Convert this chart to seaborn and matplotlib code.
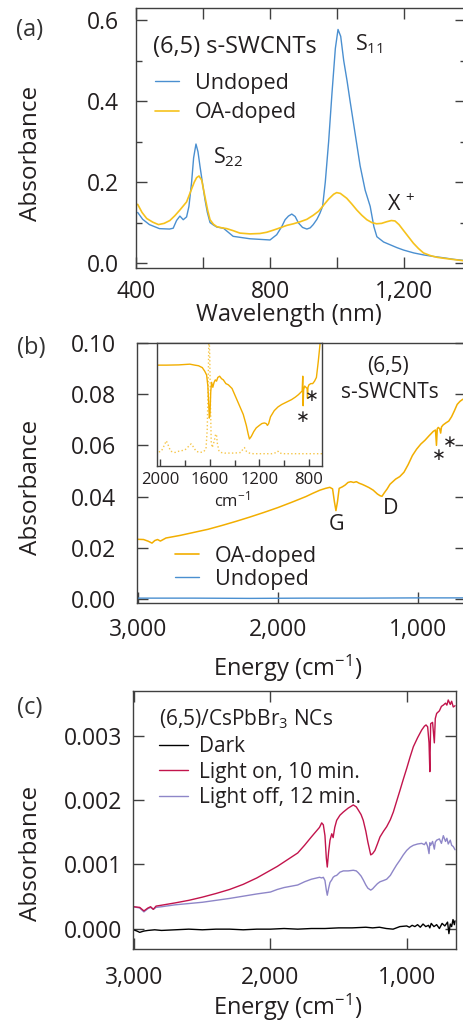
import matplotlib
matplotlib.use('Agg')
import matplotlib.pyplot as plt
import matplotlib.ticker as mticker
from matplotlib.lines import Line2D
import seaborn as sns

# ---------------- (a) absorption vs wavelength
wl_undoped = [405, 420, 440, 470, 500, 511, 521, 531, 541, 551, 558, 566, 572, 579, 585, 591, 598, 606, 613, 621,
              631, 641, 661, 690, 740, 800, 820, 835, 845, 855, 865, 875, 885, 897, 910, 920, 929, 940, 949, 957,
              965, 975, 985, 995, 1003, 1011, 1020, 1030, 1039, 1054, 1069, 1084, 1099, 1110, 1119, 1139, 1159,
              1179, 1199, 1229, 1259, 1290, 1318, 1350, 1385]
abs_undoped = [0.125, 0.108, 0.095, 0.085, 0.084, 0.086, 0.105, 0.116, 0.107, 0.114, 0.14, 0.2, 0.26, 0.294, 0.275,
               0.239, 0.2, 0.156, 0.125, 0.1, 0.094, 0.089, 0.086, 0.066, 0.06, 0.057, 0.07, 0.09, 0.107, 0.116,
               0.121, 0.115, 0.099, 0.088, 0.084, 0.087, 0.095, 0.108, 0.123, 0.14, 0.2, 0.3, 0.42, 0.53, 0.577,
               0.56, 0.5, 0.45, 0.4, 0.32, 0.24, 0.18, 0.14, 0.09, 0.065, 0.052, 0.045, 0.038, 0.032, 0.025, 0.02,
               0.016, 0.013, 0.009, 0.006]
wl_doped = [405, 418, 432, 450, 467, 484, 501, 516, 531, 551, 566, 574, 581, 588, 596, 606, 614, 621, 631, 641,
            656, 671, 690, 710, 740, 770, 790, 809, 830, 850, 870, 890, 910, 929, 945, 959, 975, 990, 999, 1010,
            1029, 1044, 1059, 1074, 1089, 1104, 1118, 1133, 1148, 1162, 1173, 1185, 1198, 1213, 1228, 1243, 1258,
            1280, 1300, 1317, 1345, 1385]
abs_doped = [0.145, 0.125, 0.11, 0.101, 0.095, 0.098, 0.105, 0.117, 0.131, 0.151, 0.183, 0.2, 0.211, 0.215, 0.205,
             0.163, 0.13, 0.107, 0.096, 0.09, 0.087, 0.085, 0.08, 0.074, 0.072, 0.073, 0.076, 0.081, 0.087, 0.093,
             0.097, 0.102, 0.108, 0.118, 0.128, 0.142, 0.158, 0.17, 0.174, 0.172, 0.16, 0.146, 0.131, 0.118, 0.107,
             0.1, 0.097, 0.098, 0.102, 0.105, 0.104, 0.095, 0.081, 0.065, 0.049, 0.036, 0.025, 0.018, 0.014, 0.012,
             0.009, 0.005]

# ---------------- (b) IR absorption of (6,5) s-SWCNTs
e_doped_ir = [3005, 2960, 2925, 2900, 2880, 2860, 2840, 2800, 2700, 2600, 2500, 2400, 2300, 2200, 2100, 2000, 1900,
              1800, 1750, 1700, 1660, 1630, 1610, 1597, 1586, 1575, 1563, 1540, 1520, 1500, 1480, 1460, 1440, 1420,
              1400, 1380, 1350, 1320, 1290, 1270, 1257, 1240, 1220, 1200, 1180, 1160, 1130, 1100, 1070, 1040, 1010,
              980, 950, 920, 890, 875, 868, 862, 855, 845, 838, 832, 820, 800, 780, 760, 740, 720, 700, 680, 660]
abs_doped_ir = [0.0233, 0.0232, 0.0225, 0.0218, 0.0228, 0.0232, 0.0226, 0.0238, 0.0248, 0.026, 0.0272, 0.0287,
                0.0303, 0.032, 0.0338, 0.0357, 0.0378, 0.04, 0.0413, 0.0425, 0.0432, 0.0436, 0.043, 0.038, 0.0345,
                0.038, 0.0432, 0.0438, 0.0445, 0.0455, 0.0458, 0.0455, 0.0458, 0.0452, 0.0448, 0.0443, 0.0435,
                0.0425, 0.041, 0.0403, 0.0401, 0.0415, 0.043, 0.0448, 0.0458, 0.0468, 0.0478, 0.0495, 0.0525,
                0.056, 0.0585, 0.0605, 0.062, 0.0638, 0.0655, 0.066, 0.06, 0.0665, 0.067, 0.0665, 0.0648, 0.0672,
                0.068, 0.0688, 0.0695, 0.0712, 0.0735, 0.076, 0.0772, 0.078, 0.0782]
e_undoped_ir = [3005, 2600, 2200, 1800, 1400, 1000, 800, 660]
abs_undoped_ir = [0.0003, 0.0003, 0.0002, 0.0003, 0.0003, 0.0004, 0.0004, 0.0004]

# inset (arbitrary units)
e_inset = [2025, 1950, 1850, 1760, 1720, 1690, 1660, 1640, 1625, 1615, 1608, 1603, 1598, 1592, 1585, 1575, 1565,
           1555, 1545, 1535, 1520, 1505, 1490, 1470, 1450, 1420, 1390, 1360, 1330, 1305, 1290, 1280, 1265, 1245,
           1225, 1200, 1180, 1160, 1145, 1135, 1125, 1110, 1080, 1050, 1020, 1000, 970, 940, 910, 885, 865, 855,
           850, 847, 843, 835, 825, 815, 812, 808, 800, 785, 770, 755, 740, 725, 710, 695]
ir_inset = [0.82, 0.82, 0.822, 0.828, 0.82, 0.815, 0.8, 0.77, 0.74, 0.65, 0.5, 0.39, 0.42, 0.6, 0.68, 0.64, 0.68,
            0.7, 0.69, 0.72, 0.73, 0.71, 0.7, 0.67, 0.66, 0.63, 0.56, 0.49, 0.42, 0.33, 0.26, 0.22, 0.24, 0.28,
            0.31, 0.33, 0.345, 0.35, 0.345, 0.33, 0.345, 0.4, 0.45, 0.48, 0.5, 0.51, 0.525, 0.54, 0.56, 0.58, 0.6,
            0.61, 0.73, 0.49, 0.62, 0.65, 0.64, 0.63, 0.55, 0.64, 0.66, 0.67, 0.67, 0.69, 0.72, 0.85, 1.0, 1.1]
e_inset_dot = [2025, 1990, 1970, 1950, 1935, 1915, 1880, 1850, 1800, 1770, 1750, 1735, 1710, 1680, 1650, 1630,
               1620, 1612, 1606, 1600, 1594, 1588, 1580, 1570, 1560, 1552, 1545, 1538, 1525, 1510, 1480, 1450,
               1400, 1350, 1330, 1320, 1305, 1280, 1250, 1200, 1150, 1100, 1060, 1050, 1040, 1000, 950, 900, 850,
               800, 750, 695]
ir_inset_dot = [0.11, 0.12, 0.16, 0.205, 0.17, 0.12, 0.11, 0.12, 0.13, 0.16, 0.18, 0.16, 0.12, 0.11, 0.115, 0.14,
                0.3, 0.7, 1.1, 0.9, 0.5, 0.2, 0.15, 0.18, 0.22, 0.26, 0.25, 0.18, 0.12, 0.11, 0.105, 0.105, 0.105,
                0.11, 0.14, 0.15, 0.12, 0.105, 0.1, 0.1, 0.1, 0.1, 0.11, 0.12, 0.105, 0.1, 0.1, 0.1, 0.1, 0.1, 0.1,
                0.1]

# ---------------- (c) (6,5)/CsPbBr3 NCs
e_c = [3005, 2960, 2929, 2900, 2880, 2860, 2840, 2800, 2700, 2600, 2500, 2400, 2300, 2200, 2100, 2000, 1950, 1900,
       1850, 1800, 1750, 1700, 1660, 1640, 1624, 1612, 1600, 1590, 1583, 1573, 1563, 1550, 1540, 1528, 1514, 1490,
       1465, 1430, 1392, 1370, 1355, 1335, 1319, 1300, 1285, 1264, 1250, 1233, 1215, 1196, 1170, 1147, 1120, 1098,
       1075, 1049, 1025, 1000, 975, 951, 920, 890, 870, 858, 846, 836, 830, 824, 810, 797, 790, 780, 760, 745, 731,
       715, 705, 695, 680, 670, 658, 645]
light_on = [0.00034, 0.00033, 0.000275, 0.00032, 0.00034, 0.0003, 0.00035, 0.000364, 0.0004, 0.00044, 0.00049,
            0.000547, 0.00061, 0.00069, 0.00079, 0.00091, 0.00097, 0.00104, 0.00111, 0.00118, 0.0013, 0.00143,
            0.00153, 0.00158, 0.00165, 0.00162, 0.00145, 0.0011, 0.00096, 0.0012, 0.00138, 0.00148, 0.00142,
            0.00158, 0.00169, 0.00177, 0.00182, 0.00188, 0.00193, 0.0019, 0.00185, 0.00178, 0.00169, 0.00152,
            0.00135, 0.00115, 0.00117, 0.00122, 0.00132, 0.00143, 0.00152, 0.00159, 0.0017, 0.00182, 0.00198,
            0.00216, 0.00233, 0.0025, 0.00268, 0.00284, 0.00298, 0.0031, 0.00316, 0.00318, 0.00315, 0.0029,
            0.00245, 0.0032, 0.00322, 0.0029, 0.00328, 0.00336, 0.0034, 0.00347, 0.00349, 0.00352, 0.00349,
            0.00357, 0.0035, 0.00355, 0.00346, 0.00348]
light_off = [0.00034, 0.00032, 0.00026, 0.00031, 0.00033, 0.0003, 0.00033, 0.00034, 0.00037, 0.00039, 0.00041,
             0.00044, 0.00047, 0.000505, 0.00054, 0.00057, 0.00061, 0.00064, 0.00066, 0.00068, 0.00073, 0.00077,
             0.00079, 0.0008, 0.00079, 0.0008, 0.00075, 0.0006, 0.00052, 0.00063, 0.00072, 0.00076, 0.0008,
             0.00082, 0.00083, 0.00088, 0.0009, 0.0009, 0.00091, 0.0009, 0.00087, 0.00082, 0.00076, 0.00068,
             0.00063, 0.0006, 0.00062, 0.00066, 0.0007, 0.00073, 0.00075, 0.00077, 0.00083, 0.00091, 0.00099,
             0.00107, 0.00115, 0.00122, 0.00127, 0.0013, 0.00132, 0.00133, 0.00131, 0.00135, 0.00128, 0.00117,
             0.00134, 0.0013, 0.00136, 0.00124, 0.00135, 0.00138, 0.0014, 0.00133, 0.00145, 0.00136, 0.00141,
             0.00132, 0.00138, 0.0013, 0.00128, 0.00123]
e_dark = [3005, 2980, 2960, 2930, 2900, 2850, 2800, 2700, 2600, 2500, 2400, 2300, 2200, 2100, 2000, 1900, 1800,
          1700, 1600, 1500, 1400, 1300, 1250, 1200, 1150, 1100, 1050, 1000, 980, 960, 940, 920, 900, 880, 860, 840,
          830, 820, 800, 780, 760, 740, 720, 700, 690, 680, 670, 660, 650, 645]
dark = [-0.00002, -0.00004, -0.00006, -0.00004, -0.00003, -0.00002, -0.00003, -0.00002, -0.00001, -0.00002,
        -0.00001, -0.00001, -0.00002, -0.00001, -0.00001, 0.0, -0.00001, 0.0, 0.0, 0.00001, 0.00001, 0.00002,
        0.00001, 0.00002, 0.0, -0.00001, 0.00003, 0.00004, 0.00002, 0.00005, 0.00003, 0.00006, 0.00002, 0.00007,
        0.00003, 0.00005, 0.00001, 0.00008, 0.00003, 0.00006, 0.0, 0.00008, 0.00004, 0.0001, -0.00008, 0.00007,
        0.00003, 0.00014, 0.00006, 0.00012]

BLUE = '#4a8fd0'
GOLD = '#f6c21c'
ORANGE = '#f2ae00'
RED = '#c2144c'
LAV = '#8e86c8'
INK = '#231f20'
SPINE = '#404040'

sns.set_theme(style="white")
plt.rcParams['font.family'] = ['Open Sans', 'DejaVu Sans']
plt.rcParams['mathtext.fontset'] = 'custom'
plt.rcParams['mathtext.rm'] = 'Open Sans'
plt.rcParams['mathtext.it'] = 'Open Sans'
plt.rcParams['text.color'] = INK
plt.rcParams['axes.labelcolor'] = INK
plt.rcParams['xtick.color'] = SPINE
plt.rcParams['ytick.color'] = SPINE
plt.rcParams['xtick.labelcolor'] = INK
plt.rcParams['ytick.labelcolor'] = INK

W, H = 464, 1021
fig = plt.figure(figsize=(W / 100, H / 100), dpi=100)


def box(l, t, r, b):
    return [l / W, 1 - b / H, (r - l) / W, (b - t) / H]


def frame(ax, ypad, xpad, top=True):
    for s in ax.spines.values():
        s.set_color(SPINE)
        s.set_linewidth(1.0)
    ax.tick_params(which='both', direction='in', left=True, right=True, bottom=True, top=top,
                   labelsize=16.5, width=1.0)
    ax.tick_params(which='major', length=8)
    ax.tick_params(which='minor', length=4)
    ax.tick_params(axis='y', pad=ypad)
    ax.tick_params(axis='x', pad=xpad)


thousands = mticker.FuncFormatter(lambda v, p: f'{v:,.0f}')

# ----- panel (a)
ax_a = fig.add_axes(box(136, 8, 466, 267.5))
sns.lineplot(x=wl_undoped, y=abs_undoped, ax=ax_a, color=BLUE, lw=1.0, estimator=None)
sns.lineplot(x=wl_doped, y=abs_doped, ax=ax_a, color=GOLD, lw=1.2, estimator=None)
ax_a.set_xlim(400, 1385)
ax_a.set_ylim(-0.011, 0.63)
ax_a.set_xticks([400, 600, 800, 1000, 1200])
ax_a.set_xticklabels(['400', '', '800', '', '1,200'])
ax_a.yaxis.set_major_locator(mticker.MultipleLocator(0.2))
ax_a.yaxis.set_minor_locator(mticker.MultipleLocator(0.1))
ax_a.yaxis.set_major_formatter(mticker.FormatStrFormatter('%.1f'))
frame(ax_a, 12.5, 9)
ax_a.set_xlabel('Wavelength (nm)', fontsize=17)
ax_a.xaxis.set_label_coords(0.462, -0.135)
ax_a.set_ylabel('Absorbance', fontsize=17.5)
ax_a.yaxis.set_label_coords(-0.282, 0.44)
ax_a.text(0.052, 0.85, '(6,5) s-SWCNTs', transform=ax_a.transAxes, fontsize=17, va='center')
ax_a.text(0.664, 0.86, 'S$_{11}$', transform=ax_a.transAxes, fontsize=15.5, va='center')
ax_a.text(0.232, 0.425, 'S$_{22}$', transform=ax_a.transAxes, fontsize=15.5, va='center')
ax_a.text(0.76, 0.24, 'X $^{+}$', transform=ax_a.transAxes, fontsize=15.5, va='center')
hand_a = [Line2D([], [], color=BLUE, lw=1.0), Line2D([], [], color=GOLD, lw=1.2)]
ax_a.legend(hand_a, ['Undoped', 'OA-doped'], loc='upper left', bbox_to_anchor=(0.058, 0.75),
            frameon=False, fontsize=15.5, handlelength=1.1, handletextpad=0.75, labelspacing=0.4,
            borderpad=0, borderaxespad=0)

# ----- panel (b)
ax_b = fig.add_axes(box(137, 343, 466, 603))
sns.lineplot(x=e_undoped_ir, y=abs_undoped_ir, ax=ax_b, color=BLUE, lw=1.0, estimator=None)
sns.lineplot(x=e_doped_ir, y=abs_doped_ir, ax=ax_b, color=ORANGE, lw=1.1, estimator=None)
ax_b.set_xlim(3007, 657)
ax_b.set_ylim(-0.0016, 0.1)
ax_b.set_xticks([3000, 2000, 1000])
ax_b.xaxis.set_major_formatter(thousands)
ax_b.yaxis.set_major_locator(mticker.MultipleLocator(0.02))
ax_b.yaxis.set_major_formatter(mticker.FormatStrFormatter('%.2f'))
frame(ax_b, 15, 11, top=False)
ax_b.set_xlabel('Energy (cm$^{-1}$)', fontsize=17)
ax_b.xaxis.set_label_coords(0.459, -0.19)
ax_b.set_ylabel('Absorbance', fontsize=17.5)
ax_b.yaxis.set_label_coords(-0.285, 0.444)
ax_b.text(0.763, 0.908, '(6,5)', transform=ax_b.transAxes, fontsize=15, ha='center', va='center')
ax_b.text(0.769, 0.808, 's-SWCNTs', transform=ax_b.transAxes, fontsize=15, ha='center', va='center')
ax_b.text(0.608, 0.30, 'G', transform=ax_b.transAxes, fontsize=15.5, ha='center', va='center')
ax_b.text(0.772, 0.362, 'D', transform=ax_b.transAxes, fontsize=15.5, ha='center', va='center')
for ex, ey in [(850, 0.0562), (774, 0.0612)]:
    ax_b.text(ex, ey, '\u2217', fontsize=12, ha='center', va='center', family='DejaVu Sans', color=INK)
hand_b = [Line2D([], [], color=ORANGE, lw=1.2), Line2D([], [], color=BLUE, lw=1.0)]
ax_b.legend(hand_b, ['OA-doped', 'Undoped'], loc='upper left', bbox_to_anchor=(0.116, 0.22),
            frameon=False, fontsize=15.5, handlelength=1.1, handletextpad=0.75, labelspacing=0.1,
            borderpad=0, borderaxespad=0)

# inset
ax_i = fig.add_axes(box(157, 343, 322, 466))
ax_i.set_facecolor('white')
sns.lineplot(x=e_inset_dot, y=ir_inset_dot, ax=ax_i, color='#f6c64a', lw=1.0, ls=':', estimator=None)
sns.lineplot(x=e_inset, y=ir_inset, ax=ax_i, color=ORANGE, lw=1.0, estimator=None)
ax_i.set_xlim(2025, 695)
ax_i.set_ylim(0, 1)
ax_i.set_xticks([2000, 1600, 1200, 800])
ax_i.set_xticks([1800, 1400, 1000], minor=True)
ax_i.set_yticks([])
for s in ax_i.spines.values():
    s.set_color(SPINE)
    s.set_linewidth(1.0)
ax_i.tick_params(which='both', direction='in', bottom=True, top=False, left=False, right=False,
                 labelsize=12, pad=4, width=1.0)
ax_i.tick_params(which='major', length=5)
ax_i.tick_params(which='minor', length=4)
ax_i.set_xlabel('cm$^{-1}$', fontsize=12)
ax_i.xaxis.set_label_coords(0.455, -0.2)
for ex, ey in [(853, 0.40), (774, 0.57)]:
    ax_i.text(ex, ey, '\u2217', fontsize=12, ha='center', va='center', family='DejaVu Sans', color=INK)

# ----- panel (c)
ax_c = fig.add_axes(box(133.3, 691, 456, 949))
sns.lineplot(x=e_dark, y=dark, ax=ax_c, color='black', lw=1.0, estimator=None)
sns.lineplot(x=e_c, y=light_off, ax=ax_c, color=LAV, lw=1.0, estimator=None)
sns.lineplot(x=e_c, y=light_on, ax=ax_c, color=RED, lw=1.0, estimator=None)
ax_c.set_xlim(3007, 638)
ax_c.set_ylim(-0.00032, 0.00371)
ax_c.set_xticks([3000, 2000, 1000])
ax_c.xaxis.set_major_formatter(thousands)
ax_c.yaxis.set_major_locator(mticker.MultipleLocator(0.001))
ax_c.yaxis.set_major_formatter(mticker.FormatStrFormatter('%.3f'))
frame(ax_c, 8, 12)
ax_c.set_xlabel('Energy (cm$^{-1}$)', fontsize=17)
ax_c.xaxis.set_label_coords(0.479, -0.165)
ax_c.set_ylabel('Absorbance', fontsize=17.5)
ax_c.yaxis.set_label_coords(-0.279, 0.372)
hand_c = [Line2D([], [], color='black', lw=1.0), Line2D([], [], color=RED, lw=1.0),
          Line2D([], [], color=LAV, lw=1.0)]
leg_c = ax_c.legend(hand_c, ['Dark', 'Light on, 10 min.', 'Light off, 12 min.'], loc='upper left',
                    bbox_to_anchor=(0.08, 0.935), frameon=False, fontsize=15, handlelength=1.4,
                    handletextpad=0.5, labelspacing=0.22, borderpad=0, borderaxespad=0,
                    title='(6,5)/CsPbBr$_3$ NCs', title_fontsize=15, alignment='left')

# panel letters
for lab, (px, py) in zip(['(a)', '(b)', '(c)'], [(30, 30), (31.7, 348), (30, 708)]):
    fig.text(px / W, 1 - py / H, lab, fontsize=17, ha='center', va='center', color='#333333')

fig.savefig('out.png', dpi=100)
